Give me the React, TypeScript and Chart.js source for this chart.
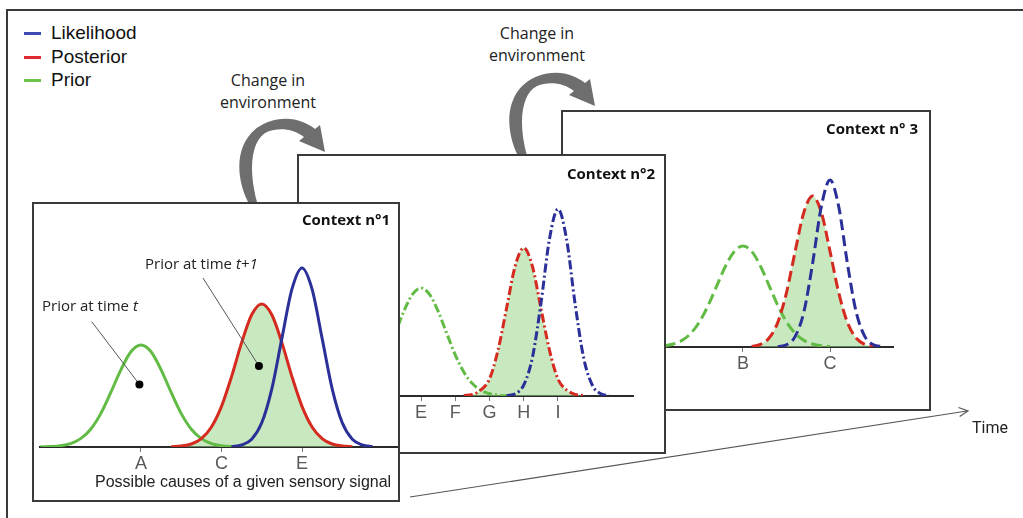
import React, { useEffect, useRef } from "react";
import { Chart, registerables } from "chart.js";

Chart.register(...registerables);

// ---------- data ----------
const seriesNames = ["Likelihood", "Posterior", "Prior"];

// Context n°1 (solid lines), x in "cause" units: A=0, C=2, E=4
const ctx1Grid = [-2.5, -2.25, -2, -1.75, -1.5, -1.25, -1, -0.75, -0.5, -0.25, 0, 0.25, 0.5, 0.75, 1, 1.25, 1.5, 1.75, 2, 2.25, 2.5, 2.75, 3, 3.25, 3.5, 3.75, 4, 4.25, 4.5, 4.75, 5, 5.25, 5.5, 5.75, 6, 6.25];
const ctx1Prior = [0.001, 0.002, 0.006, 0.017, 0.042, 0.089, 0.167, 0.273, 0.386, 0.476, 0.51, 0.476, 0.386, 0.273, 0.167, 0.089, 0.042, 0.017, 0.006, 0.002, 0.001, null, null, null, null, null, null, null, null, null, null, null, null, null, null, null];
const ctx1Posterior = [null, null, null, null, null, null, null, null, null, null, null, null, null, 0.001, 0.005, 0.015, 0.042, 0.1, 0.203, 0.352, 0.522, 0.661, 0.715, 0.661, 0.522, 0.352, 0.203, 0.1, 0.042, 0.015, 0.005, 0.001, null, null, null, null];
const ctx1Likelihood = [null, null, null, null, null, null, null, null, null, null, null, null, null, null, null, null, null, null, null, 0.002, 0.01, 0.039, 0.121, 0.291, 0.543, 0.789, 0.895, 0.789, 0.543, 0.291, 0.121, 0.039, 0.01, 0.002, null, null];
const ctx1TickValues = [0, 2, 4];
const ctx1TickLabels = ["A", "C", "E"];

// Context n°2 (dash-dot lines), E=4 ... I=8
const ctx2Grid = [1.5, 1.75, 2, 2.25, 2.5, 2.75, 3, 3.25, 3.5, 3.75, 4, 4.25, 4.5, 4.75, 5, 5.25, 5.5, 5.75, 6, 6.25, 6.5, 6.75, 7, 7.25, 7.5, 7.75, 8, 8.25, 8.5, 8.75, 9, 9.25, 9.5, 9.75];
const ctx2Prior = [0.001, 0.004, 0.011, 0.028, 0.062, 0.12, 0.206, 0.314, 0.424, 0.508, 0.54, 0.508, 0.424, 0.314, 0.206, 0.12, 0.062, 0.028, 0.011, 0.004, 0.001, null, null, null, null, null, null, null, null, null, null, null, null, null];
const ctx2Posterior = [null, null, null, null, null, null, null, null, null, null, null, null, null, null, null, 0.002, 0.008, 0.03, 0.085, 0.23, 0.44, 0.65, 0.74, 0.65, 0.44, 0.23, 0.085, 0.03, 0.008, 0.002, null, null, null, null];
const ctx2Likelihood = [null, null, null, null, null, null, null, null, null, null, null, null, null, null, null, null, null, null, null, null, 0.002, 0.011, 0.055, 0.19, 0.46, 0.784, 0.935, 0.784, 0.46, 0.19, 0.055, 0.011, 0.002, null];
const ctx2TickValues = [4, 5, 6, 7, 8];
const ctx2TickLabels = ["E", "F", "G", "H", "I"];

// Context n°3 (dashed lines), B=1, C=2
const ctx3Grid = [0.1, 0.2, 0.3, 0.4, 0.5, 0.6, 0.7, 0.8, 0.9, 1.0, 1.1, 1.2, 1.3, 1.4, 1.5, 1.6, 1.7, 1.8, 1.9, 2.0, 2.1, 2.2, 2.3, 2.4, 2.5, 2.6, 2.7];
const ctx3Prior = [0.006, 0.015, 0.033, 0.068, 0.126, 0.208, 0.307, 0.405, 0.478, 0.505, 0.478, 0.405, 0.307, 0.208, 0.126, 0.068, 0.033, 0.015, 0.006, 0.002, null, null, null, null, null, null, null];
const ctx3Posterior = [null, null, null, null, null, null, null, null, null, null, 0.003, 0.013, 0.045, 0.123, 0.272, 0.479, 0.674, 0.755, 0.674, 0.479, 0.272, 0.123, 0.045, 0.013, 0.003, null, null];
const ctx3Likelihood = [null, null, null, null, null, null, null, null, null, null, null, null, null, 0.002, 0.011, 0.053, 0.176, 0.418, 0.702, 0.835, 0.702, 0.418, 0.176, 0.053, 0.011, 0.002, null];
const ctx3TickValues = [1, 2];
const ctx3TickLabels = ["B", "C"];

// annotation leader lines in Context n°1 (data units)
const annotFromX = [-1.225, 1.54];
const annotFromY = [0.627, 0.845];
const annotDotX = [-0.04, 2.93];
const annotDotY = [0.313, 0.405];

// ---------- styles ----------
const BLUE = "#2b2f98";
const RED = "#d52a1f";
const GREEN = "#62bb45";
const FILL = "rgba(150, 210, 135, 0.52)";
const HUMANIST = "'Open Sans', Lato, sans-serif";

const leaderPlugin = {
  id: "leaders",
  afterDatasetsDraw(chart: any) {
    const { ctx, scales } = chart;
    const x = scales.x;
    const y = scales.y;
    ctx.save();
    for (let i = 0; i < annotDotX.length; i++) {
      const x0 = x.getPixelForValue(annotFromX[i]);
      const y0 = y.getPixelForValue(annotFromY[i]);
      const x1 = x.getPixelForValue(annotDotX[i]);
      const y1 = y.getPixelForValue(annotDotY[i]);
      ctx.strokeStyle = "#555";
      ctx.lineWidth = 1;
      ctx.beginPath();
      ctx.moveTo(x0, y0);
      ctx.lineTo(x1, y1);
      ctx.stroke();
      ctx.fillStyle = "#000";
      ctx.beginPath();
      ctx.arc(x1, y1, 4, 0, Math.PI * 2);
      ctx.fill();
    }
    ctx.restore();
  },
};

type PanelProps = {
  left: number;
  top: number;
  width: number;
  height: number;
  grid: number[];
  likelihood: (number | null)[];
  posterior: (number | null)[];
  prior: (number | null)[];
  tickValues: number[];
  tickLabels: string[];
  min: number;
  max: number;
  padding: { left: number; right: number; top: number; bottom: number };
  dash: number[];
  title: string;
  titleRight: number;
  titleTop: number;
  extraPlugins?: any[];
  z: number;
};

function Panel(p: PanelProps) {
  const ref = useRef<HTMLCanvasElement>(null);
  const cw = p.width - 4;
  const ch = p.height - 4;
  useEffect(() => {
    const toPts = (arr: (number | null)[]) => p.grid.map((x, i) => ({ x, y: arr[i] }));
    const common = {
      pointRadius: 0,
      borderWidth: 3,
      borderDash: p.dash,
      cubicInterpolationMode: "monotone" as const,
      spanGaps: false,
    };
    const chart = new Chart(ref.current as HTMLCanvasElement, {
      type: "line",
      data: {
        datasets: [
          { ...common, label: seriesNames[0], data: toPts(p.likelihood), borderColor: BLUE, fill: false },
          { ...common, label: seriesNames[1], data: toPts(p.posterior), borderColor: RED, fill: "origin", backgroundColor: FILL },
          { ...common, label: seriesNames[2], data: toPts(p.prior), borderColor: GREEN, fill: false },
        ] as any,
      },
      options: {
        responsive: false,
        animation: false,
        devicePixelRatio: 1,
        layout: { padding: p.padding },
        plugins: {
          legend: { display: false },
          tooltip: { enabled: false },
          filler: { drawTime: "beforeDatasetsDraw" },
        } as any,
        scales: {
          x: {
            type: "linear",
            min: p.min,
            max: p.max,
            afterBuildTicks: (axis: any) => {
              axis.ticks = p.tickValues.map((v) => ({ value: v }));
            },
            afterFit: (axis: any) => {
              axis.height = 30;
            },
            ticks: {
              autoSkip: false,
              maxRotation: 0,
              padding: 1,
              color: "#5a5a5a",
              font: { family: "'Liberation Sans', Arial, sans-serif", size: 18 },
              callback: (v: any) => {
                const i = p.tickValues.indexOf(Number(v));
                return i >= 0 ? p.tickLabels[i] : "";
              },
            },
            grid: { display: true, drawOnChartArea: false, drawTicks: true, tickLength: 5, color: "#777", lineWidth: 1 },
            border: { display: true, color: "#2a2a2a", width: 2 },
          },
          y: { display: false, min: 0, max: 1 },
        },
      },
      plugins: p.extraPlugins || [],
    } as any);
    return () => chart.destroy();
  }, []);
  return (
    <div
      style={{
        position: "absolute",
        left: p.left,
        top: p.top,
        width: p.width,
        height: p.height,
        boxSizing: "border-box",
        border: "2px solid #3a3a3a",
        background: "#fff",
        zIndex: p.z,
      }}
    >
      <canvas ref={ref} width={cw} height={ch} style={{ position: "absolute", left: 0, top: 0, width: cw, height: ch }} />
      <div
        style={{
          position: "absolute",
          right: p.titleRight,
          top: p.titleTop - 11,
          lineHeight: "22px",
          fontFamily: HUMANIST,
          fontWeight: 700,
          fontSize: 15,
          color: "#111",
          whiteSpace: "nowrap",
        }}
      >
        {p.title}
      </div>
    </div>
  );
}

const txt = (x: number, y: number, extra: any = {}) => ({
  position: "absolute" as const,
  left: x,
  top: y - 11,
  lineHeight: "22px",
  whiteSpace: "nowrap" as const,
  ...extra,
});

export default function App() {
  const legendColors = ["#3c4cae", "#e02a31", "#6cc24a"];
  const legendY = [33, 57, 80];
  return (
    <div
      style={{
        position: "fixed",
        left: 0,
        top: 0,
        width: 1023,
        height: 518,
        background: "#fff",
        overflow: "hidden",
        fontFamily: "'Liberation Sans', Arial, sans-serif",
      }}
    >
      {/* outer frame */}
      <div style={{ position: "absolute", left: 6, top: 9, width: 1030, height: 2, background: "#3a3a3a" }} />
      <div style={{ position: "absolute", left: 6, top: 9, width: 2, height: 520, background: "#3a3a3a" }} />

      {/* legend */}
      {seriesNames.map((n, i) => (
        <React.Fragment key={n}>
          <div style={{ position: "absolute", left: 24, top: legendY[i] - 1.5, width: 17, height: 3, background: legendColors[i] }} />
          <div style={txt(51, legendY[i], { fontSize: 19, color: "#111" })}>{n}</div>
        </React.Fragment>
      ))}

      {/* change in environment labels */}
      {[
        [268, 80],
        [537, 33],
      ].map(([cx, cy], i) => (
        <div
          key={i}
          style={{
            position: "absolute",
            left: cx - 80,
            width: 160,
            top: cy - 11,
            lineHeight: "22px",
            textAlign: "center",
            fontFamily: HUMANIST,
            fontSize: 16,
            color: "#222",
          }}
        >
          Change in
          <br />
          environment
        </div>
      ))}

      {/* curved arrows (behind panels) */}
      <svg width={1023} height={518} style={{ position: "absolute", left: 0, top: 0, zIndex: 0 }}>
        {[0, 1].map((i) => (
          <path
            key={i}
            transform={i === 1 ? "translate(270,-46)" : undefined}
            d="M 248 202 C 233 172, 236 134, 268 122 C 287 115, 304 120, 315 129 L 320 125 L 325 152 L 299 141 L 304 137 C 294 129, 279 127, 267 132 C 251 140, 248 170, 257 202 Z"
            fill="#6e6e6e"
          />
        ))}
      </svg>

      <Panel
        z={1}
        left={561}
        top={110}
        width={370}
        height={301}
        grid={ctx3Grid}
        likelihood={ctx3Likelihood}
        posterior={ctx3Posterior}
        prior={ctx3Prior}
        tickValues={ctx3TickValues}
        tickLabels={ctx3TickLabels}
        min={-1.011}
        max={2.724}
        padding={{ left: 5, right: 36, top: 35, bottom: 32 }}
        dash={[11, 5]}
        title="Context n° 3"
        titleRight={11}
        titleTop={16}
      />
      <Panel
        z={2}
        left={297}
        top={154}
        width={369}
        height={300}
        grid={ctx2Grid}
        likelihood={ctx2Likelihood}
        posterior={ctx2Posterior}
        prior={ctx2Prior}
        tickValues={ctx2TickValues}
        tickLabels={ctx2TickLabels}
        min={0.613}
        max={10.19}
        padding={{ left: 6, right: 31, top: 40, bottom: 26 }}
        dash={[9, 3, 2, 3]}
        title="Context n°2"
        titleRight={9}
        titleTop={17}
      />
      <Panel
        z={3}
        left={32}
        top={202}
        width={368}
        height={300}
        grid={ctx1Grid}
        likelihood={ctx1Likelihood}
        posterior={ctx1Posterior}
        prior={ctx1Prior}
        tickValues={ctx1TickValues}
        tickLabels={ctx1TickLabels}
        min={-2.509}
        max={6.36}
        padding={{ left: 6, right: 1, top: 43, bottom: 23 }}
        dash={[]}
        title="Context n°1"
        titleRight={8}
        titleTop={15}
        extraPlugins={[leaderPlugin]}
      />

      {/* panel 1 texts */}
      <div style={{ ...txt(42, 305, { fontFamily: HUMANIST, fontSize: 15, color: "#222" }), zIndex: 4 }}>
        Prior at time <i>t</i>
      </div>
      <div style={{ ...txt(145, 263, { fontFamily: HUMANIST, fontSize: 15, color: "#222" }), zIndex: 4 }}>
        Prior at time <i>t+1</i>
      </div>
      <div style={{ ...txt(95, 482, { fontSize: 16, color: "#222" }), zIndex: 4 }}>Possible causes of a given sensory signal</div>

      {/* time arrow */}
      <svg width={1023} height={518} style={{ position: "absolute", left: 0, top: 0, zIndex: 5, pointerEvents: "none" }}>
        <line x1={410} y1={497} x2={967} y2={411} stroke="#555" strokeWidth={1.2} />
        <polyline points="958.5,407.5 968,411 959.7,416.5" fill="none" stroke="#555" strokeWidth={1.2} />
      </svg>
      <div style={{ ...txt(972, 428, { fontFamily: "Roboto, sans-serif", fontSize: 16, color: "#222" }), zIndex: 5 }}>Time</div>
    </div>
  );
}
